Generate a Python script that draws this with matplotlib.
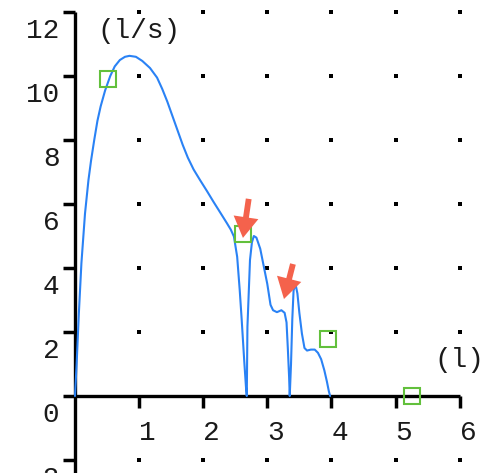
import matplotlib
matplotlib.use("Agg")
import matplotlib.pyplot as plt
from matplotlib.patches import FancyArrowPatch

# flow curve (l/s) vs volume (l)
vol = [0.00, 0.026, 0.06, 0.10, 0.156, 0.21, 0.25, 0.30, 0.35, 0.40, 0.47,
       0.55, 0.62, 0.70, 0.78, 0.85, 0.95, 1.05, 1.17, 1.28, 1.36, 1.44,
       1.52, 1.60, 1.68, 1.76, 1.85, 1.95, 2.06, 2.16, 2.27, 2.37, 2.43,
       2.48, 2.51, 2.53, 2.57, 2.60, 2.64, 2.67, 2.68, 2.69, 2.71, 2.73,
       2.76, 2.79, 2.83, 2.89, 2.95, 3.00, 3.05, 3.09, 3.15, 3.22, 3.27,
       3.30, 3.32, 3.34, 3.35, 3.37, 3.39, 3.41, 3.44, 3.47, 3.50, 3.54,
       3.58, 3.62, 3.68, 3.74, 3.79, 3.84, 3.89, 3.93, 3.96, 3.98]
flow = [0.00, 1.03, 2.58, 4.15, 5.7, 6.75, 7.35, 8.0, 8.6, 9.05, 9.55,
        10.0, 10.3, 10.5, 10.6, 10.63, 10.6, 10.47, 10.25, 9.95, 9.6, 9.2,
        8.75, 8.3, 7.85, 7.45, 7.08, 6.75, 6.4, 6.07, 5.72, 5.4, 5.2,
        4.98, 4.6, 4.35, 3.3, 2.4, 1.1, 0.2, 0.0, 2.16, 3.2, 4.25,
        4.8, 5.0, 4.95, 4.6, 4.0, 3.5, 2.85, 2.68, 2.62, 2.68, 2.6,
        2.3, 1.5, 0.6, 0.0, 1.0, 2.4, 3.3, 3.5, 3.2, 2.6, 1.95,
        1.5, 1.42, 1.45, 1.45, 1.35, 1.15, 0.8, 0.45, 0.15, 0.0]

# green reference markers
mark_x = [0.52, 2.62, 3.94, 5.25]
mark_y = [9.92, 5.06, 1.77, 0.0]

# red arrows: (tail, tip)
arrows = [((2.71, 6.16), (2.62, 4.94)),
          ((3.40, 4.125), (3.26, 3.03))]

xticks = [1, 2, 3, 4, 5, 6]
yticks = [-2, 0, 2, 4, 6, 8, 10, 12]

FONT = "Liberation Mono"
FS = 20
TXT = "#1a1a1a"

fig = plt.figure(figsize=(5.01, 4.73), dpi=100)
ax = fig.add_axes([0, 0, 1, 1])
ax.set_xlim(-75 / 64.1, 426 / 64.1)
ax.set_ylim(-77 / 32.0, 396 / 32.0)

for s in ["top", "right"]:
    ax.spines[s].set_visible(False)
ax.spines["left"].set_position(("data", 0))
ax.spines["bottom"].set_position(("data", 0))
ax.spines["left"].set_bounds(-3, 12)
ax.spines["bottom"].set_bounds(0, 6)
for s in ["left", "bottom"]:
    ax.spines[s].set_linewidth(2.4)
    ax.spines[s].set_capstyle("butt")

ax.set_xticks(xticks)
ax.set_yticks(yticks)
ax.set_xticklabels([])
ax.set_yticklabels([])
ax.tick_params(axis="both", direction="out", length=8.5, width=2.5, color="black")

# dotted grid
gx = [x for x in xticks for y in yticks if y != 0]
gy = [y for x in xticks for y in yticks if y != 0]
ax.scatter(gx, gy, marker="s", s=5, color="black", linewidths=0, zorder=2)

ax.plot(vol, flow, color="#2a82f5", lw=1.5, zorder=3,
        solid_joinstyle="round", solid_capstyle="round")
ax.plot(mark_x, mark_y, ls="none", marker="s", ms=11.7, mfc="none",
        mec="#62c03c", mew=1.5, zorder=4, clip_on=False)

for tail, tip in arrows:
    ax.add_patch(FancyArrowPatch(tail, tip,
                 arrowstyle="simple,head_width=18,head_length=15,tail_width=4.2",
                 mutation_scale=1, shrinkA=0, shrinkB=0,
                 color="#f4624c", lw=0, zorder=5))

# tick labels, offset like the original
for x in xticks:
    ax.text(x + 0.133, -1.375, str(x), ha="center", va="baseline",
            family=FONT, fontsize=FS, color=TXT)
for y in yticks:
    ax.text(-0.242, y - 0.80, str(y), ha="right", va="baseline",
            family=FONT, fontsize=FS, color=TXT)

ax.text(1.0, 11.18, "(l/s)", ha="center", va="baseline",
        family=FONT, fontsize=FS, color=TXT)
ax.text(6.0, 0.92, "(l)", ha="center", va="baseline",
        family=FONT, fontsize=FS, color=TXT)

fig.savefig("out.png", dpi=100)
